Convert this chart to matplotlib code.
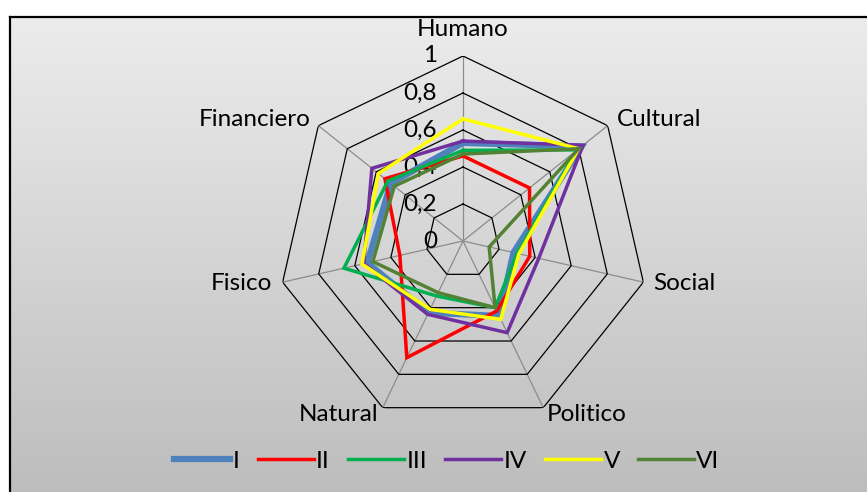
import numpy as np
import matplotlib
matplotlib.use("Agg")
import matplotlib.pyplot as plt

plt.rcParams['font.family'] = ['Lato', 'DejaVu Sans']

# data
categories = ['Humano', 'Cultural', 'Social', 'Politico', 'Natural', 'Fisico', 'Financiero']
series_names = ['I', 'II', 'III', 'IV', 'V', 'VI']
vals_I = [0.53, 0.82, 0.28, 0.45, 0.43, 0.53, 0.50]
vals_II = [0.46, 0.46, 0.37, 0.42, 0.70, 0.35, 0.54]
vals_III = [0.49, 0.79, 0.30, 0.40, 0.33, 0.66, 0.52]
vals_IV = [0.54, 0.83, 0.42, 0.55, 0.44, 0.55, 0.63]
vals_V = [0.66, 0.80, 0.31, 0.47, 0.41, 0.56, 0.585]
vals_VI = [0.47, 0.80, 0.145, 0.40, 0.31, 0.50, 0.475]
rings = [0.2, 0.4, 0.6, 0.8, 1.0]
ring_labels = ['0', '0,2', '0,4', '0,6', '0,8', '1']

colors = ['#4F81BD', '#FF0000', '#00B050', '#7030A0', '#FFFF00', '#548235']
widths = [4.5, 2.5, 2.5, 2.5, 2.5, 2.5]

W, H = 867, 492
fig = plt.figure(figsize=(W / 100, H / 100), dpi=100)
fig.patch.set_facecolor('white')

# gradient background with frame
bg = fig.add_axes([10 / W, 0, 1 - 10 / W, 1 - 17 / H])
grad = np.linspace(0, 1, 256).reshape(-1, 1)
top = np.array([236, 236, 236]) / 255
bot = np.array([189, 189, 189]) / 255
img = top + (bot - top) * grad[:, :, None]
bg.imshow(img, aspect='auto', extent=[0, 1, 0, 1], origin='upper')
bg.set_xticks([])
bg.set_yticks([])
for s in ['right', 'bottom']:
    bg.spines[s].set_visible(False)
for s in ['left', 'top']:
    bg.spines[s].set_linewidth(1.6)
    bg.spines[s].set_color('black')

# radar axes
cx, cy, R = 463, 241, 185
ax = fig.add_axes([(cx - R) / W, (H - cy - R) / H, 2 * R / W, 2 * R / H], projection='polar')
ax.set_facecolor('none')
ax.set_theta_offset(np.pi / 2)
ax.set_theta_direction(-1)
ax.set_ylim(0, 1)
ax.grid(False)
ax.spines['polar'].set_visible(False)
ax.set_xticks([])
ax.set_yticks([])

n = len(categories)
angles = np.linspace(0, 2 * np.pi, n, endpoint=False)
closed = np.concatenate([angles, angles[:1]])

for a in angles:
    ax.plot([a, a], [0, 1], color='#8c8c8c', lw=0.9, zorder=1)
for r in rings:
    ax.plot(closed, [r] * (n + 1), color='black', lw=0.9, zorder=1)

all_vals = [vals_I, vals_II, vals_III, vals_IV, vals_V, vals_VI]
for name, v, c, w in zip(series_names, all_vals, colors, widths):
    ax.plot(closed, list(v) + [v[0]], color=c, lw=w, label=name, zorder=3,
            solid_joinstyle='miter')

fs = 17.5
for r, lab in zip([0] + rings, ring_labels):
    ax.annotate(lab, xy=(0, r), xytext=(-26, 0), textcoords='offset pixels',
                ha='right', va='center', fontsize=fs, zorder=2)

offsets = [(0, 27, 'center'), (9, 6, 'left'), (10, -1, 'left'), (3, -7, 'left'),
           (-4, -7, 'right'), (-11, -1, 'right'), (-8, 6, 'right')]
for a, cat, (dx, dy, ha) in zip(angles, categories, offsets):
    ax.annotate(cat, xy=(a, 1), xytext=(dx, dy), textcoords='offset pixels',
                ha=ha, va='center', fontsize=fs)

leg = fig.legend(loc='center', bbox_to_anchor=(447 / W, 1 - 461 / H), ncol=6,
                 frameon=False, fontsize=fs, handlelength=2.3, handletextpad=0.1,
                 columnspacing=0.75)

fig.savefig('out.png', dpi=100)
